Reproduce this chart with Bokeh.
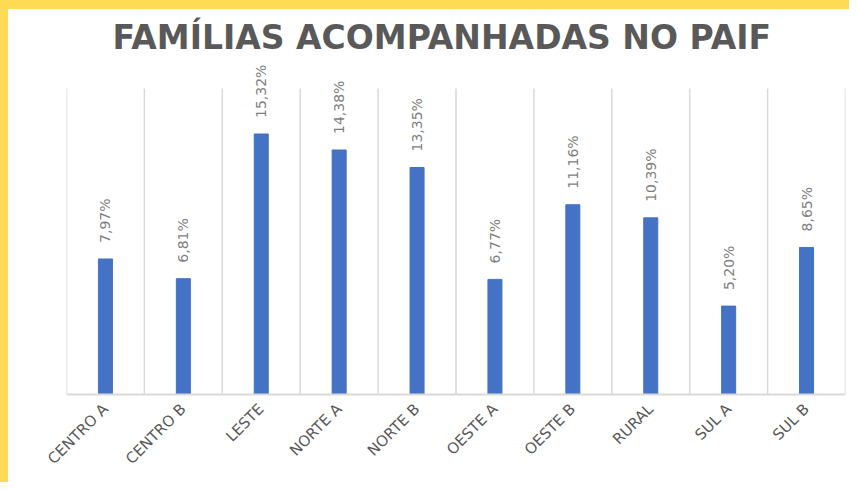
import math
from bokeh.plotting import figure
from bokeh.models import ColumnDataSource, Range1d, FixedTicker
from bokeh.core.properties import value
from bokeh.embed import file_html
from bokeh.resources import INLINE

categories = ["CENTRO A", "CENTRO B", "LESTE", "NORTE A", "NORTE B",
              "OESTE A", "OESTE B", "RURAL", "SUL A", "SUL B"]
percentages = [7.97, 6.81, 15.32, 14.38, 13.35, 6.77, 11.16, 10.39, 5.20, 8.65]
title_text = "FAMÍLIAS ACOMPANHADAS NO PAIF"
axis_max = 18          # top of the value axis (where the grid lines stop)
view_max = 19.76       # extra head room above the axis for the value labels

idx = list(range(len(categories)))
labels = [f"{v:.2f}".replace(".", ",") + "%" for v in percentages]
src = ColumnDataSource(dict(x=idx, y=percentages, label=labels))

p = figure(width=849, height=482, x_range=Range1d(-0.5, len(categories) - 0.5),
           y_range=Range1d(0, view_max), output_backend="svg", toolbar_location=None,
           min_border_left=58, min_border_right=12, min_border_bottom=97,
           min_border_top=49, title=title_text)
p.styles = {"border-left": "8px solid #FFDA55", "border-top": "9px solid #FFDA55"}

p.title.align = "left"
p.title.text_font = "DejaVu Sans"
p.title.text_font_style = "bold"
p.title.text_font_size = "33px"
p.title.text_color = "#595959"
p.title.standoff = 4
p.title.offset = 46

p.outline_line_color = None
p.background_fill_color = "white"
p.border_fill_color = "white"

# category separators, from the baseline to the axis maximum
bounds = [i - 0.5 for i in range(len(categories) + 1)]
p.segment(x0=bounds, y0=[0] * len(bounds), x1=bounds, y1=[axis_max] * len(bounds),
          line_color="#d9d9d9", line_width=1.5)

p.vbar(x="x", top="y", width=0.18, bottom=0, source=src,
       fill_color="#4472C4", line_color="#4472C4")

p.text(x="x", y="y", text="label", source=src, angle=math.pi / 2,
       text_align="left", text_baseline="middle", y_offset=-16,
       text_font_size="14px", text_color="#7f7f7f", text_font=value("DejaVu Sans"))

p.yaxis.visible = False
p.ygrid.grid_line_color = None
p.xgrid.grid_line_color = None

ax = p.xaxis[0]
ax.ticker = FixedTicker(ticks=idx)
ax.major_label_overrides = {i: c for i, c in zip(idx, categories)}
ax.major_label_orientation = math.pi / 4
ax.major_label_text_font = "DejaVu Sans"
ax.major_label_text_font_size = "15px"
ax.major_label_text_color = "#595959"
ax.major_label_standoff = 6
ax.axis_line_color = "#d9d9d9"
ax.axis_line_width = 2
ax.major_tick_line_color = None
ax.minor_tick_line_color = None

open("out.html", "w").write(file_html(p, INLINE))
